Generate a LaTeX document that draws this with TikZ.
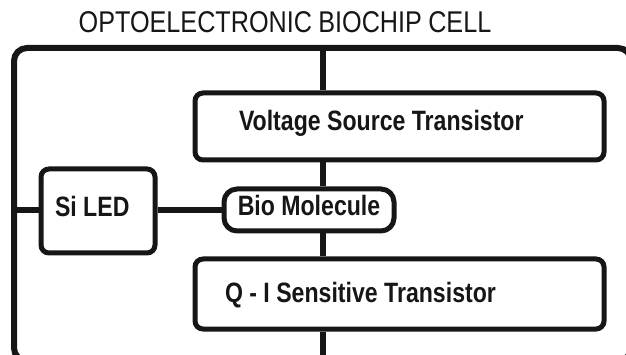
\documentclass[tikz,border=0pt]{standalone}
\usepackage{xcolor}
\usepackage{fontspec}
\usepackage{tikz}
\usetikzlibrary{calc}
\newfontfamily\titlefont[FakeStretch=0.84, WordSpace=0.9]{Liberation Sans}
\newfontfamily\boxfont[FakeStretch=0.825, WordSpace=1]{Liberation Sans}
\definecolor{ink}{RGB}{22,22,22}
\tikzset{
  cellbox/.style={rectangle, draw=ink, line width=5pt, rounded corners=8pt,
    align=flush left, inner ysep=0pt, text height=20pt, text=ink,
    execute at begin node={\spaceskip=0pt\xspaceskip=0pt\relax},
    font=\boxfont\bfseries\fontsize{28}{30}\selectfont},
  pillbox/.style={cellbox, rounded corners=13pt, align=center, inner xsep=0pt},
  frame/.style={draw=ink, line width=6pt, rounded corners=13pt},
  wire/.style={line width=5.5pt, color=ink}
}
\begin{document}
\begin{tikzpicture}[x=1pt, y=-1pt]
  \useasboundingbox (0,0) rectangle (626,355);
  \clip (0,0) rectangle (626,355);
  % Title
  \node[anchor=base, text=ink, font=\titlefont\fontsize{30}{32}\selectfont] (title) at (285,33) {OPTOELECTRONIC BIOCHIP CELL};
  % Cell outline (bottom and right edges run off the page)
  \draw[frame] (14,361) -- (14,48) -- (631,48) -- (631,361) -- cycle;
  \coordinate (spinetop) at (323,48);
  \coordinate (spinebot) at (323,361);
  \coordinate (rail) at (14,210);
  % Blocks
  \node[cellbox, minimum width=409pt, minimum height=67pt, inner xsep=44pt, text width=321pt, text depth=11pt] (vst) at (399.5,126.5) {Voltage Source Transistor};
  \node[cellbox, minimum width=409pt, minimum height=70pt, inner xsep=30pt, text width=349pt, text depth=3pt] (qit) at (399.5,294) {Q - I Sensitive Transistor};
  \node[cellbox, minimum width=114pt, minimum height=84pt, inner xsep=14pt, text width=86pt, text depth=8pt] (led) at (98,211) {Si LED};
  \node[pillbox, minimum width=170pt, minimum height=42pt, text depth=8pt] (bio) at (309,210) {Bio Molecule};
  % Wiring
  \draw[wire] (spinetop) -- (vst.north -| spinetop);
  \draw[wire] (vst.south -| spinetop) -- (bio.north -| spinetop);
  \draw[wire] (bio.south -| spinetop) -- (qit.north -| spinetop);
  \draw[wire] (qit.south -| spinetop) -- (spinebot);
  \draw[wire] (rail) -- (led.west |- rail);
  \draw[wire] (led.east |- bio.west) -- (bio.west);
\end{tikzpicture}
\end{document}
